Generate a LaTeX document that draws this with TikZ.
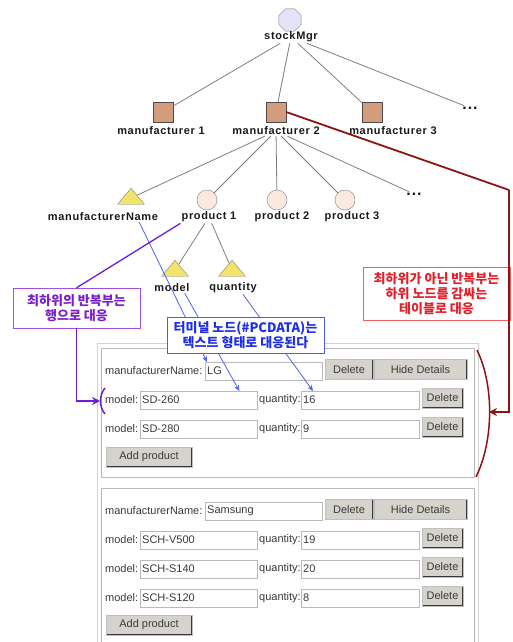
\documentclass[tikz,border=0pt]{standalone}
\usepackage{fontspec}
\setmainfont{Liberation Sans}
\newfontfamily\treefont[LetterSpace=6]{Liberation Sans}
\newfontfamily\krfont{Noto Sans CJK KR}
\usetikzlibrary{shapes.geometric,arrows.meta}

\definecolor{octfill}{HTML}{E4E4F8}
\definecolor{mfrfill}{HTML}{D39C7C}
\definecolor{leaffill}{HTML}{F2E46A}
\definecolor{prodfill}{HTML}{FBE8DE}
\definecolor{treegray}{HTML}{7E7E7E}
\definecolor{darkred}{HTML}{8E1414}
\definecolor{redtext}{HTML}{E0202A}
\definecolor{redframe}{HTML}{E86060}
\definecolor{purptext}{HTML}{7A1FC8}
\definecolor{purpframe}{HTML}{A050E0}
\definecolor{purpline}{HTML}{6A20D0}
\definecolor{bluetext}{HTML}{1E2EE6}
\definecolor{blueframe}{HTML}{4C5CF0}
\definecolor{blueline}{HTML}{5060F0}
\definecolor{btnfill}{HTML}{D6D3CC}
\definecolor{uitext}{HTML}{3A3A3A}

\tikzset{
  treelbl/.style={font=\treefont\bfseries\fontsize{11}{12}\selectfont,text=black!90,inner sep=1pt},
  treeline/.style={draw=treegray,line width=0.8pt},
  octnode/.style={regular polygon,regular polygon sides=8,minimum size=24pt,inner sep=0,draw=gray,fill=octfill},
  mfrnode/.style={rectangle,minimum size=20pt,inner sep=0,draw=gray!60!black,fill=mfrfill},
  leafnode/.style={isosceles triangle,isosceles triangle apex angle=80,shape border rotate=90,minimum height=16pt,inner sep=0,draw=gray,fill=leaffill},
  prodnode/.style={circle,minimum size=20pt,inner sep=0,draw=gray,fill=prodfill},
  uilbl/.style={anchor=west,inner sep=0,font=\fontsize{11}{12}\selectfont,text=uitext},
  field/.style={anchor=north west,draw=gray!55,fill=white,minimum height=18pt,text width=113pt,inner sep=2pt,align=left,
    font=\fontsize{11}{12}\selectfont,text=uitext,
    path picture={\draw[gray!30!black,line width=1.2pt] (path picture bounding box.south west) |- (path picture bounding box.north east);}},
  btn/.style={draw=gray!50,fill=btnfill,inner sep=0,minimum height=20pt,font=\fontsize{11}{12}\selectfont,text=uitext,
    path picture={\draw[gray!45!black,line width=1.8pt] (path picture bounding box.south west) -| (path picture bounding box.north east);}},
  notebox/.style={fill=white,align=center,inner sep=2pt,font=\krfont\bfseries\fontsize{13}{15}\selectfont},
  blueconn/.style={draw=blueline,line width=0.8pt,-{Stealth[length=6pt,width=5pt]}},
}

\begin{document}
\begin{tikzpicture}[x=1pt,y=-1pt]
\useasboundingbox (0,0) rectangle (512,642);
\clip (0,0) rectangle (512,642);

% form panels
\draw[gray!35,line width=1pt] (97,343) rectangle (478,660);
\foreach \top/\bot in {348/477,488/660}
  \draw[gray!55,fill=white] (101,\top) rectangle (474,\bot);

% LG
\node[uilbl] (lgnl) at (105,371) {manufacturerName:};
\node[field] (lgf) at (205,362) {LG};
\node[btn,minimum width=48pt] (lgdel) at (349,369.5) {Delete};
\node[btn,minimum width=93pt] (lghide) at (420.5,369.5) {Hide Details};
\foreach \m/\q [count=\i] in {SD-260/16,SD-280/9}{
  \node[uilbl] (lgml\i) at (105,{371+29*\i}) {model:};
  \node[field] (lgm\i) at (140,{362+29*\i}) {\m};
  \node[uilbl] (lgql\i) at (259,{371+29*\i}) {quantity:};
  \node[field,text width=114pt] (lgq\i) at (301,{362+29*\i}) {\q};
  \node[btn,minimum width=41pt] (lgd\i) at (442.5,{369+29*\i}) {Delete};
}
\node[btn,minimum width=86pt] (lgadd) at (149,457) {Add product};

% Samsung
\node[uilbl] (ssnl) at (105,511) {manufacturerName:};
\node[field] (ssf) at (205,502) {Samsung};
\node[btn,minimum width=48pt] (ssdel) at (349,509.5) {Delete};
\node[btn,minimum width=93pt] (sshide) at (420.5,509.5) {Hide Details};
\foreach \m/\q [count=\i] in {SCH-V500/19,SCH-S140/20,SCH-S120/8}{
  \node[uilbl] (ssml\i) at (105,{511+29*\i}) {model:};
  \node[field] (ssm\i) at (140,{502+29*\i}) {\m};
  \node[uilbl] (ssql\i) at (259,{511+29*\i}) {quantity:};
  \node[field,text width=114pt] (ssq\i) at (301,{502+29*\i}) {\q};
  \node[btn,minimum width=41pt] (ssd\i) at (442.5,{509+29*\i}) {Delete};
}
\node[btn,minimum width=86pt] (ssadd) at (149,625) {Add product};

% tree
\node[octnode] (root) at (290,20) {};
\node[treelbl] (rootl) at (291,37) {stockMgr};
\foreach \n/\x/\lx in {1/163/161,2/276/276,3/372/393}{
  \node[mfrnode] (m\n) at (\x,112) {};
  \node[treelbl] (ml\n) at (\lx,131) {manufacturer \n};
  \draw[treeline] (rootl) -- (m\n);
}
\node[treelbl,font=\treefont\bfseries\fontsize{16}{16}\selectfont] (mdots) at (470,108) {...};
\draw[treeline] (rootl) -- (mdots);

\node[leafnode] (mname) at (131,198) {};
\node[treelbl] (mnamel) at (103,217) {manufacturerName};
\draw[treeline] (ml2) -- (mname);
\foreach \n/\x/\lx in {1/207/209,2/277/282,3/345/352}{
  \node[prodnode] (p\n) at (\x,200) {};
  \node[treelbl] (pl\n) at (\lx,217) {product \n};
  \draw[treeline] (ml2) -- (p\n);
}
\node[treelbl,font=\treefont\bfseries\fontsize{16}{16}\selectfont] (pdots) at (414,194) {...};
\draw[treeline] (ml2) -- (pdots);

\node[leafnode] (model) at (175,270) {};
\node[treelbl] (modell) at (172,288) {model};
\node[leafnode] (qty) at (232,270) {};
\node[treelbl] (qtyl) at (233,288) {quantity};
\draw[treeline] (pl1) -- (model);
\draw[treeline] (pl1) -- (qty);

% terminal nodes -> text fields
\draw[blueconn] ([xshift=-20pt]mnamel.south east) -- ([xshift=2pt]lgf.north west);
\draw[blueconn] ([xshift=-6pt]modell.south east) -- ([xshift=-18pt]lgm1.north east);
\draw[blueconn] ([xshift=10pt]qtyl.south) -- ([xshift=12pt]lgq1.north west);

% brackets
\coordinate (pbr) at (100,401);
\coordinate (rbr) at (489,412);
\coordinate (rbend) at (509,190);
\draw[purpline,line width=1.5pt] (105,388) .. controls (99,395) and (99,407) .. (105,414);
\draw[darkred,line width=1.5pt] (477,350) .. controls (494,385) and (494,440) .. (476,477);

% notes
\node[notebox,draw=purpframe,text=purptext,minimum width=127pt,minimum height=40pt] (pbox) at (76.5,308) {최하위의 반복부는\\행으로 대응};
\draw[purpline,line width=1.3pt] (pl1.south west) -- (pbox.north);
\draw[purpline,line width=1.3pt,-{Stealth[length=8pt,width=8pt]}] (pbox.south) |- (pbr);

\draw[darkred,line width=1.8pt] (m2.east) -- (rbend);
\node[notebox,draw=redframe,text=redtext,minimum width=147pt,minimum height=53pt] (rbox) at (436.5,293.5) {최하위가 아닌 반복부는\\하위 노드를 감싸는\\테이블로 대응};
\draw[darkred,line width=1.8pt,-{Stealth[length=8pt,width=8pt]}] (rbend) |- (rbr);

\node[notebox,draw=blueframe,text=bluetext,minimum width=157pt,minimum height=36pt] (bbox) at (245.5,335) {터미널 노드(\#PCDATA)는\\텍스트 형태로 대응된다};
\end{tikzpicture}
\end{document}
